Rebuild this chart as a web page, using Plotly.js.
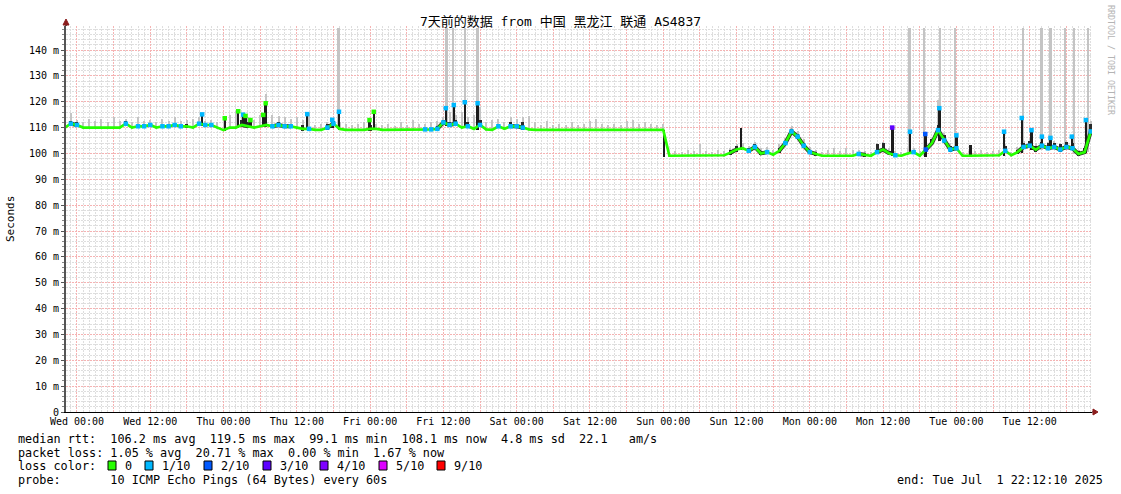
<!DOCTYPE html>
<html><head><meta charset="utf-8">
<script src="https://cdn.plot.ly/plotly-3.0.1.min.js"></script>
<style>html,body{margin:0;padding:0;background:#fff;overflow:hidden}#chart{width:1121px;height:494px}</style>
</head><body><div id="chart"></div>
<script>
// ---------- data ----------
const titleText = '7天前的数据 from 中国 黑龙江 联通 AS4837';
const seriesStart = '2025-06-24 22:00';   // first hourly sample
const rangeStart = '2025-06-24 22:12:10';
const rangeEnd = '2025-07-01 22:12:10';

const yTickVals = [0,10,20,30,40,50,60,70,80,90,100,110,120,130,140];
const yTickText = ['0','10 m','20 m','30 m','40 m','50 m','60 m','70 m','80 m','90 m','100 m','110 m','120 m','130 m','140 m'];

// hourly median rtt (ms)
const medianRtt = [
 110,111.5,111,110,110,110,110,110,110,110,          // h0-9
 111.5,110,110.5,110.5,111,110,110.5,110.5,111,110.5, // h10-19
 110.5,110,111.5,111,111,110,109,110,110,111,        // h20-29
 110.5,110,110.5,111,110.5,111,110.5,110.5,110,109.5,// h30-39
 109.5,109.1,109.1,110,111.5,109.5,109.1,109.1,109.1,109.1, // h40-49
 109.5,109.5,109.1,109.1,109.1,109.1,109.1,109.1,109.1,109.3, // h50-59
 109.3,109.5,112,111,111.5,110,110.5,109.5,111,109.3, // h60-69
 109.1,110.5,109.5,110.5,110.5,110,109.3,109.1,109.1,109.1, // h70-79
 109.1,109.1,109.1,109.1,109.1,109.1,109.1,109.1,109.1,109.1, // h80-89
 109.1,109.1,109.3,109.1,109.1,109.1,109.1,109.1,109.1,99.1,  // h90-99
 99.1,99.1,99.1,99.1,99.1,99.1,99.1,99.1,99.3,100.3,  // h100-109
 101.5,102,101,102.5,100,100.5,99.5,101,104,108.5,    // h110-119
 106.5,103,100.5,99.8,99.1,99.1,99.1,99.1,99.1,99.1,  // h120-129
 99.8,99.5,99.1,100.5,101.5,100,99.3,99.1,100,100.5,  // h130-139
 99.1,101.5,104,109,105,101.5,102,99.1,99.1,99.1,     // h140-149
 99.1,99.1,99.1,99.3,101,99.3,100.5,102.5,103,101.5,  // h150-159
 103,102,102.5,101.5,102.5,102,99.8,100.5,108.5       // h160-168
];
// hourly packet loss, in tenths
const lossTenths = [
 0,1,1,0,0,0,0,0,0,0,
 1,0,1,1,1,0,1,1,1,1,
 0,0,1,1,1,0,0,0,0,0,
 0,0,0,0,1,1,1,1,0,0,
 1,0,0,1,1,0,0,0,0,0,
 0,0,0,0,0,0,0,0,0,1,
 1,1,1,1,1,0,1,0,1,0,
 0,1,0,1,1,1,0,0,0,0,
 0,0,0,0,0,0,0,0,0,0,
 0,0,0,0,0,0,0,0,0,0,
 0,0,0,0,0,0,0,0,0,0,
 0,0,1,1,0,1,0,0,1,1,
 1,1,1,0,0,0,0,0,0,0,
 1,0,0,1,0,0,1,0,0,1,
 0,2,0,1,1,1,1,0,0,0,
 0,0,0,0,1,0,0,1,1,0,
 1,1,1,1,1,1,0,0,1
];
// hourly top of the light smoke (ms)
const smokeTop = [
 113,115.5,113,112,113.5,112.5,113.5,112,114,112.5,
 113.5,112,114,112.5,113,112,113.5,112.5,114,112.5,
 113,113.5,114,112.5,113,112,114,115,116.5,115.5,
 114,113,115,123,115,114.5,114,113.5,114,113,
 115.5,111,111.5,112,113.5,112,111.5,111,111.5,112,
 113,111.5,111,111.5,110.5,112,111,113,111.5,111.5,
 112,112.5,114,116,115,116,114,115,118,112,
 113,113.5,112,114,113.5,114,114.5,112,111,112.5,
 111,111.5,111,112,111,111.5,112.5,113.5,111.5,111,
 111.5,111,112.5,113,111.5,112,111.5,111,111.5,100.5,
 101,100.5,101.5,101,103.5,101,100.5,101.5,101,102,
 103.5,104,103,104.5,102,102.5,101.5,103.5,106,110.5,
 108.5,105.5,102.5,101.5,100.5,101.5,102,101,102,101.5,
 101.5,101,100.5,104,104.5,102,101,100.5,102,102,
 101,104,106,120.5,108,104,104,100.5,101,101,
 101.5,100.5,101,101.5,103.5,100.5,102.5,105,106,104,
 105,104.5,105,104,105,104.5,101.5,103,112.5
];
// hours with dark (dense) smoke and its top (ms)
const darkHours = [1,2,10,13,17,20,23,29,30,34,35,36,37,39,43,44,50,61,62,63,64,66,68,71,73,74,75,109,110,112,113,114,115,117,118,119,120,121,122,123,130,131,133,134,135,139,141,142,143,144,145,146,154,156,157,158,159,160,161,162,163,164,165,166,167,168];
const darkTops = [112.5,112,112.5,111.5,111.5,111.5,111.5,113,112,111.5,112,111.5,111.5,111,111.5,112.5,111,110.5,113,112,113,112,113,111.5,112,111.5,112,101.5,103,102,103.5,101,101.5,102,105,109.5,107.5,104,101.5,100.5,100.5,100,103.5,104,101,101.5,103,105.5,111,107,103,103,103,101.5,104,105,103,104.5,104,104,103.5,104.5,104,101,102,111.5];
// short dark spikes (time, top ms, loss tenths of the median marker; null = no marker)
const spikeTimes = ['2025-06-25 20:30','2025-06-26 00:12','2025-06-26 02:24','2025-06-26 03:12','2025-06-26 03:36','2025-06-26 04:24','2025-06-26 06:30','2025-06-26 06:54','2025-06-26 13:42','2025-06-26 17:48','2025-06-26 18:54','2025-06-26 23:54','2025-06-27 00:36','2025-06-27 12:24','2025-06-27 13:42','2025-06-27 15:30','2025-06-27 17:36','2025-06-29 00:06','2025-06-29 12:42','2025-06-30 13:30','2025-06-30 16:24','2025-06-30 18:54','2025-06-30 21:12','2025-07-01 00:00','2025-07-01 02:18','2025-07-01 07:48','2025-07-01 10:42','2025-07-01 12:18','2025-07-01 14:00','2025-07-01 15:24','2025-07-01 18:54','2025-07-01 21:12'];
const spikeTops = [115.1,113.6,116.3,115,114.5,112.9,114.9,119.4,115.2,113,116.1,112.9,116.1,117.5,118.7,119.8,119.4,109.1,109.7,110,108.4,107.5,117.5,107,103.3,108.4,113.7,109,106.5,106,106.5,112.9];
const spikeLoss = [1,0,0,1,0,0,0,0,1,1,1,0,0,1,1,1,1,null,null,3,1,2,1,1,null,1,1,1,1,1,1,1];
// single pings far above the graph (light grey full-height lines)
const tallSpikeTimes = ['2025-06-26 18:47','2025-06-27 12:32','2025-06-27 13:36','2025-06-27 15:32','2025-06-27 17:33','2025-06-30 16:17','2025-06-30 18:42','2025-06-30 21:18','2025-06-30 23:47','2025-07-01 10:52','2025-07-01 13:58','2025-07-01 15:26','2025-07-01 17:47','2025-07-01 19:15','2025-07-01 21:33'];
const tallSpikeTop = 148.4;

const lossLevels = [0,1,2,3,4,5,9];
const lossLabels = ['0','1/10','2/10','3/10','4/10','5/10','9/10'];
const lossColors = ['#26ff00','#00b8ff','#0059ff','#5e00ff','#7e00ff','#dd00ff','#ff0000'];
const statLines = [
 'median rtt:  106.2 ms avg  119.5 ms max  99.1 ms min  108.1 ms now  4.8 ms sd  22.1   am/s',
 'packet loss: 1.05 % avg  20.71 % max  0.00 % min  1.67 % now',
 'loss color:',
 'probe:       10 ICMP Echo Pings (64 Bytes) every 60s'
];
const endText = 'end: Tue Jul  1 22:12:10 2025';
const yAxisTitle = 'Seconds';
const sideText = 'RRDTOOL / TOBI OETIKER';

// ---------- helpers ----------
const L = 66, T = 26, W = 1026, H = 386;           // plot box in pixels
const px = p => (p - L) / W;
const py = p => (T + H - p) / H;
function tms(s){ const [d,t]=s.split(' '); const [Y,M,D]=d.split('-').map(Number); const [h,m]=t.split(':').map(Number); return Date.UTC(Y,M-1,D,h,m); }
const nb = s => s.replace(/ /g,'\u00a0');
const HOUR = 3600000, PXMS = 168*HOUR/W;
const t0 = tms(seriesStart);
const hx = medianRtt.map((_,i)=> t0 + i*HOUR);
const colorOf = l => lossColors[lossLevels.indexOf(l)];
function baseAt(ms){ const f=(ms-t0)/HOUR; const a=Math.max(0,Math.floor(f)), b=Math.min(medianRtt.length-1,Math.ceil(f)); return Math.min(medianRtt[a],medianRtt[b]); }

const mono = 'DejaVu Sans Mono, monospace';
const traces = [];
// tall light-grey lines
const tallX = tallSpikeTimes.map(tms);
traces.push({type:'bar', x:tallX, base:tallX.map(t=>baseAt(t)), y:tallX.map(t=>tallSpikeTop-baseAt(t)),
  width:2.5*PXMS, marker:{color:'#c4c4c4', line:{width:0}}, opacity:1, hoverinfo:'skip'});
// light smoke
traces.push({type:'bar', x:hx, base:medianRtt.map(v=>v-0.5), y:smokeTop.map((v,i)=>v-medianRtt[i]+0.5),
  width:2*PXMS, marker:{color:'#c4c4c4', line:{width:0}}, opacity:1, hoverinfo:'skip'});
// dark smoke
const dX = darkHours.map(h=>hx[h]);
traces.push({type:'bar', x:dX, base:darkHours.map(h=>medianRtt[h]-0.8), y:darkHours.map((h,k)=>darkTops[k]-medianRtt[h]+0.8),
  width:3*PXMS, marker:{color:'#2a2a2a', line:{width:0}}, opacity:1, hoverinfo:'skip'});
// spikes
const sX = spikeTimes.map(tms);
traces.push({type:'bar', x:sX, base:sX.map(t=>baseAt(t)-0.3), y:sX.map((t,k)=>spikeTops[k]-baseAt(t)+0.3),
  width:2.5*PXMS, marker:{color:'#1c1c1c', line:{width:0}}, opacity:1, hoverinfo:'skip'});
// dark outline along the median where smoke is dense
const dset = new Set(darkHours);
traces.push({type:'scatter', mode:'lines', x:hx,
  y:medianRtt.map((v,i)=> (dset.has(i)&&(dset.has(i-1)||dset.has(i+1))) ? v : null),
  line:{color:'#262626', width:4}, hoverinfo:'skip'});
// median line (green = no loss)
traces.push({type:'scatter', mode:'lines', x:hx, y:medianRtt, line:{color:lossColors[0], width:2.7}, hoverinfo:'skip'});
// loss-coloured points on the median
lossLevels.slice(1).forEach(lv=>{
  if(!lossTenths.includes(lv)) return;
  const idx = lossTenths.map((l,i)=>i).filter(i=>lossTenths[i]===lv);
  traces.push({type:'scatter', mode:'markers', x:idx.map(i=>hx[i]), y:idx.map(i=>medianRtt[i]),
    marker:{symbol:'square', size:4.5, color:colorOf(lv), line:{width:0}}, hoverinfo:'skip'});
});
// spike top markers
const mk = spikeLoss.map((l,k)=>k).filter(k=>spikeLoss[k]!==null);
traces.push({type:'scatter', mode:'markers', x:mk.map(k=>sX[k]), y:mk.map(k=>spikeTops[k]),
  marker:{symbol:'square', size:4.5, color:mk.map(k=>colorOf(spikeLoss[k])), line:{width:0}}, hoverinfo:'skip'});

// x ticks every 6 h, labels every 12 h
const dayNames = ['Sun','Mon','Tue','Wed','Thu','Fri','Sat'];
const tickVals = [], tickText = [];
for(let t=tms('2025-06-25 00:00'); t<tms(rangeEnd.slice(0,16)); t+=6*HOUR){
  const d=new Date(t); const h=d.getUTCHours();
  tickVals.push(t);
  tickText.push(h%12===0 ? nb(dayNames[d.getUTCDay()]+' '+String(h).padStart(2,'0')+':00') : '');
}

const annotations = [];
const rowY = [438.5, 452.5, 466, 480];
statLines.forEach((s,i)=>annotations.push({xref:'paper',yref:'paper',x:px(16),y:py(rowY[i]),xanchor:'left',yanchor:'middle',
  text:nb(s),showarrow:false,font:{family:mono,size:11.8,color:'#000'}}));
annotations.push({xref:'paper',yref:'paper',x:px(1105),y:py(480),xanchor:'right',yanchor:'middle',
  text:nb(endText),showarrow:false,font:{family:mono,size:11.8,color:'#000'}});
const boxX = [108,145,204,263,320,379,437];
const shapes = [];
lossLabels.forEach((lab,i)=>{
  shapes.push({type:'rect',xref:'paper',yref:'paper',x0:px(boxX[i]),x1:px(boxX[i]+8),y0:py(470),y1:py(461),
    fillcolor:lossColors[i],line:{color:'#000',width:1},layer:'above'});
  annotations.push({xref:'paper',yref:'paper',x:px(boxX[i]+15),y:py(466),xanchor:'left',yanchor:'middle',
    text:lab,showarrow:false,font:{family:mono,size:11.8,color:'#000'}});
});
annotations.push({xref:'paper',yref:'paper',x:px(10),y:py(219),xanchor:'center',yanchor:'middle',textangle:-90,
  text:yAxisTitle,showarrow:false,font:{family:mono,size:11,color:'#000'}});
annotations.push({xref:'paper',yref:'paper',x:px(1111),y:py(60),xanchor:'center',yanchor:'middle',textangle:90,
  text:nb(sideText),showarrow:false,font:{family:mono,size:8.3,color:'#b4b4b4'}});
// axis arrows
shapes.push({type:'line',xref:'paper',yref:'paper',x0:px(66),x1:px(66),y0:py(26),y1:py(21),line:{color:'#555',width:2}});
shapes.push({type:'path',xref:'paper',yref:'paper',path:`M ${px(63)} ${py(25)} L ${px(69)} ${py(25)} L ${px(66)} ${py(19)} Z`,fillcolor:'#8b1c1c',line:{color:'#8b1c1c',width:1}});
shapes.push({type:'line',xref:'paper',yref:'paper',x0:px(1092),x1:px(1094),y0:0,y1:0,line:{color:'#000',width:1}});
shapes.push({type:'path',xref:'paper',yref:'paper',path:`M ${px(1093)} ${py(409)} L ${px(1093)} ${py(415)} L ${px(1098)} ${py(412)} Z`,fillcolor:'#8b1c1c',line:{color:'#8b1c1c',width:1}});

const layout = {
  width:1121, height:494, margin:{l:L, r:1121-L-W, t:T, b:494-T-H, pad:0},
  paper_bgcolor:'#fff', plot_bgcolor:'#fff', showlegend:false, hovermode:false, barmode:'overlay', bargap:0,
  title:{text:titleText, x:0.5, xref:'container', xanchor:'center', y:1-21/494, yref:'container', yanchor:'middle',
    font:{family:'DejaVu Sans Mono, Noto Sans CJK SC, monospace', size:13, color:'#000'}},
  xaxis:{type:'date', range:[rangeStart, rangeEnd], tickmode:'array', tickvals:tickVals, ticktext:tickText,
    showgrid:true, gridcolor:'#f5b3b3', griddash:'2px,1px', gridwidth:1,
    minor:{dtick:HOUR, tick0:'2025-06-25 00:00', showgrid:true, gridcolor:'#dedede', griddash:'2px,1px', ticks:''},
    showline:true, linecolor:'#000', linewidth:1, zeroline:false, ticks:'', fixedrange:true,
    tickfont:{family:mono, size:10, color:'#000'}},
  yaxis:{range:[0, 149.28], tickmode:'array', tickvals:yTickVals, ticktext:yTickText.map(nb),
    showgrid:true, gridcolor:'#f5b3b3', griddash:'2px,1px', gridwidth:1,
    minor:{dtick:2, tick0:0, showgrid:true, gridcolor:'#dedede', griddash:'2px,1px', ticks:'outside', ticklen:2, tickcolor:'#888'},
    showline:true, linecolor:'#555', linewidth:2, zeroline:false, ticks:'outside', ticklen:3, tickcolor:'#555', fixedrange:true,
    tickfont:{family:mono, size:10, color:'#000'}},
  annotations, shapes
};
Plotly.newPlot('chart', traces, layout, {staticPlot:true, displayModeBar:false});
</script>
</body></html>
